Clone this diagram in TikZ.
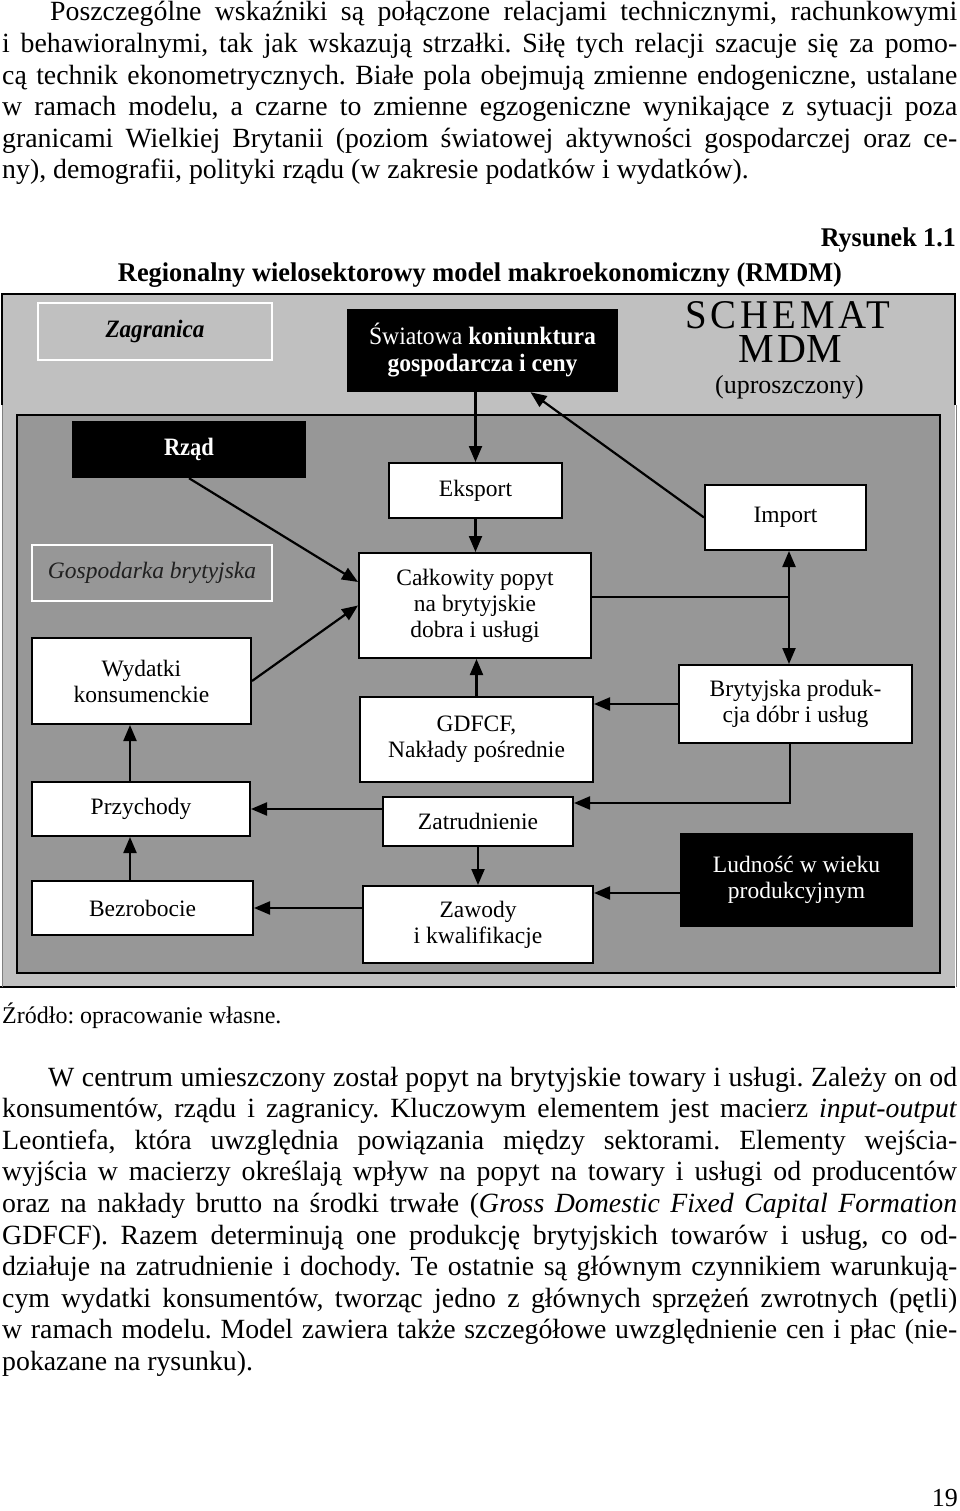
\documentclass[tikz,border=0pt]{standalone}
\usepackage{graphicx}
\usepackage{fontspec}
\setmainfont{Liberation Serif}
\usetikzlibrary{arrows.meta, calc}
\definecolor{ltgray}{HTML}{C0C0C0}
\definecolor{dkgray}{HTML}{979797}
\definecolor{ink}{HTML}{202020}
\newcommand{\bodyfont}{\fontsize{27.8}{31.6}\selectfont}
\newcommand{\boxfont}{\fontsize{23.5}{26}\selectfont}
\newcommand{\headfont}{\fontsize{25}{27}\selectfont}
\frenchspacing

\begin{document}
\begin{tikzpicture}[x=1pt, y=-1pt, >={Triangle[length=16pt, width=13pt]},
  arr/.style={->, line width=2.2pt},
  bodyline/.style={anchor=base west, inner sep=0pt, font=\bodyfont},
  whitebox/.style={draw, line width=2pt, fill=white, font=\boxfont, align=center, inner sep=0pt},
  blackbox/.style={fill=black, text=white, font=\headfont, align=center, inner sep=0pt},
  framebox/.style={draw=white, line width=2.5pt, align=center, inner sep=0pt},
  bigcaps/.style={anchor=base, inner sep=0pt, font=\fontsize{32}{34}\selectfont}]

% Page
\fill[white] (0,0) rectangle (960,1511);
\useasboundingbox (0,0) rectangle (960,1511);

% Text above the figure
\node[bodyline] (ta1) at (50,21) {\makebox[907pt][s]{Poszczególne wskaźniki są połączone relacjami technicznymi, rachunkowymi}};
\node[bodyline] (ta2) at (2,52.6) {\makebox[955pt][s]{i behawioralnymi, tak jak wskazują strzałki. Siłę tych relacji szacuje się za pomo-}};
\node[bodyline] (ta3) at (2,84.2) {\makebox[955pt][s]{cą technik ekonometrycznych. Białe pola obejmują zmienne endogeniczne, ustalane}};
\node[bodyline] (ta4) at (2,115.8) {\makebox[955pt][s]{w ramach modelu, a czarne to zmienne egzogeniczne wynikające z sytuacji poza}};
\node[bodyline] (ta5) at (2,147.4) {\makebox[955pt][s]{granicami Wielkiej Brytanii (poziom światowej aktywności gospodarczej oraz ce-}};
\node[bodyline] (ta6) at (2,179) {ny), demografii, polityki rządu (w zakresie podatków i wydatków).};

% Titles
\node[anchor=base east, inner sep=0pt, font=\fontsize{27}{29}\selectfont] (rys) at (956,247)
  {\resizebox{135pt}{\height}{\textbf{Rysunek 1.1}}};
\node[anchor=base, inner sep=0pt, font=\fontsize{27}{29}\selectfont] (tytul) at (480,282)
  {\resizebox{724pt}{\height}{\textbf{Regionalny wielosektorowy model makroekonomiczny (RMDM)}}};

% --- Frames ---
\fill[ltgray] (2,294) rectangle (955,987);
\draw[line width=1.5pt] (2,405) -- (2,294) -- (955,294) -- (955,405);
\draw[line width=1.5pt] (0,987) -- (955,987);
\draw[gray, line width=0.8pt] (2,405) -- (2,987);
\draw[gray, line width=0.8pt] (956,405) -- (956,987);
\draw[line width=2pt, fill=dkgray] (17,415) rectangle (940,973);

% --- Top row ---
\node[framebox, fill=ltgray, minimum width=234pt, minimum height=57pt, font=\headfont] (zagr) at (155,331.5)
  {\resizebox{99pt}{\height}{\textbf{\textit{Zagranica}}}};
\node[blackbox, minimum width=271pt, minimum height=83pt] (swiat) at (482.5,350.5)
  {\resizebox{227pt}{\height}{Światowa \textbf{koniunktura}}\\
   \resizebox{190pt}{\height}{\textbf{gospodarcza i ceny}}};
\node[bigcaps] (schemat) at (788,328)
  {\resizebox{205pt}{27pt}{\addfontfeature{LetterSpace=10}SCHEMA\kern0ptT}};
\node[bigcaps] (mdm) at (790,362)
  {\resizebox{104pt}{27pt}{\addfontfeature{LetterSpace=10}MD\kern0ptM}};
\node[inner sep=0pt, font=\fontsize{26}{28}\selectfont] (uproszcz) at (789.5,387) {(uproszczony)};

% --- Inner boxes ---
\node[blackbox, minimum width=234pt, minimum height=57pt] (rzad) at (189,449.5)
  {\resizebox{50pt}{\height}{\textbf{Rząd}}};
\node[whitebox, minimum width=173pt, minimum height=55pt] (eksport) at (475.5,490.5) {Eksport};
\node[whitebox, minimum width=161pt, minimum height=65pt] (import) at (785.5,517.5) {Import};
\node[framebox, fill=dkgray, text=ink, minimum width=240pt, minimum height=56pt, font=\boxfont] (gosp) at (152,573)
  {\textit{Gospodarka brytyjska}};
\node[whitebox, minimum width=232pt, minimum height=105pt] (popyt) at (475,605.5)
  {Całkowity popyt\\na brytyjskie\\dobra i usługi};
\node[whitebox, minimum width=219pt, minimum height=86pt] (wydatki) at (141.5,681)
  {Wydatki\\konsumenckie};
\node[whitebox, minimum width=233pt, minimum height=78pt] (bryt) at (795.5,704)
  {Brytyjska produk-\\cja dóbr i usług};
\node[whitebox, minimum width=233pt, minimum height=85pt] (gdfcf) at (476.5,739.5)
  {GDFCF,\\Nakłady pośrednie};
\node[whitebox, minimum width=218pt, minimum height=54pt] (przych) at (141,809) {Przychody};
\node[whitebox, minimum width=190pt, minimum height=49pt] (zatr) at (478,821.5) {Zatrudnienie};
\node[blackbox, font=\boxfont, minimum width=233pt, minimum height=94pt] (ludnosc) at (796.5,880)
  {Ludność w wieku\\produkcyjnym};
\node[whitebox, minimum width=221pt, minimum height=54pt] (bezrob) at (142.5,908) {Bezrobocie};
\node[whitebox, minimum width=230pt, minimum height=77pt] (zawody) at (478,924.5)
  {Zawody\\i kwalifikacje};

% --- Connectors ---
\coordinate (split) at (789,597);
\coordinate (bend) at (790,803);
\coordinate (lx) at (130,850);
\coordinate (ludin) at ($(ludnosc.west)+(0,13)$);

\draw[arr] (swiat.south -| eksport.north) -- (eksport.north);
\draw[arr] (import.west) -- ($(swiat.south)+(48,0)$);
\draw[arr] (rzad.south) -- ($(popyt.north west)!0.28!(popyt.south west)$);
\draw[arr] (eksport.south) -- (eksport.south |- popyt.north);
\draw[arr] (wydatki.east) -- (popyt.west);
\draw[line width=2.2pt] (split -| popyt.east) -- (split);
\draw[arr] (split) -- (split |- import.south);
\draw[arr] (split) -- (split |- bryt.north);
\draw[arr] (bryt.west) -- (bryt.west -| gdfcf.east);
\draw[arr] (gdfcf.north) -- (gdfcf.north |- popyt.south);
\draw[arr] (bryt.south -| bend) -- (bend) -- (bend -| zatr.east);
\draw[arr] (zatr.west |- przych.east) -- (przych.east);
\draw[arr] (zatr.south) -- (zatr.south |- zawody.north);
\draw[arr] (zawody.west |- bezrob.east) -- (bezrob.east);
\draw[arr] (ludin) -- (ludin -| zawody.east);
\draw[arr] (bezrob.north -| lx) -- (przych.south -| lx);
\draw[arr] (przych.north -| lx) -- (wydatki.south -| lx);

% Source
\node[anchor=base west, inner sep=0pt, font=\fontsize{24}{26}\selectfont] (zrodlo) at (2,1023)
  {Źródło: opracowanie własne.};

% Text below the figure
\node[bodyline] (tb1) at (48,1086) {\makebox[909pt][s]{W centrum umieszczony został popyt na brytyjskie towary i usługi. Zależy on od}};
\node[bodyline] (tb2) at (2,1117.6) {\makebox[955pt][s]{konsumentów, rządu i zagranicy. Kluczowym elementem jest macierz \textit{input-output}}};
\node[bodyline] (tb3) at (2,1149.2) {\makebox[955pt][s]{Leontiefa, która uwzględnia powiązania między sektorami. Elementy wejścia-}};
\node[bodyline] (tb4) at (2,1180.8) {\makebox[955pt][s]{wyjścia w macierzy określają wpływ na popyt na towary i usługi od producentów}};
\node[bodyline] (tb5) at (2,1212.4) {\makebox[955pt][s]{oraz na nakłady brutto na środki trwałe (\textit{Gross Domestic Fixed Capital Formation}}};
\node[bodyline] (tb6) at (2,1244) {\makebox[955pt][s]{GDFCF). Razem determinują one produkcję brytyjskich towarów i usług, co od-}};
\node[bodyline] (tb7) at (2,1275.6) {\makebox[955pt][s]{działuje na zatrudnienie i dochody. Te ostatnie są głównym czynnikiem warunkują-}};
\node[bodyline] (tb8) at (2,1307.2) {\makebox[955pt][s]{cym wydatki konsumentów, tworząc jedno z głównych sprzężeń zwrotnych (pętli)}};
\node[bodyline] (tb9) at (2,1338.8) {\makebox[955pt][s]{w ramach modelu. Model zawiera także szczegółowe uwzględnienie cen i płac (nie-}};
\node[bodyline] (tb10) at (2,1370.4) {pokazane na rysunku).};

% Page number
\node[anchor=base east, inner sep=0pt, font=\fontsize{26}{28}\selectfont] (strona) at (958,1506) {19};

\end{tikzpicture}
\end{document}
